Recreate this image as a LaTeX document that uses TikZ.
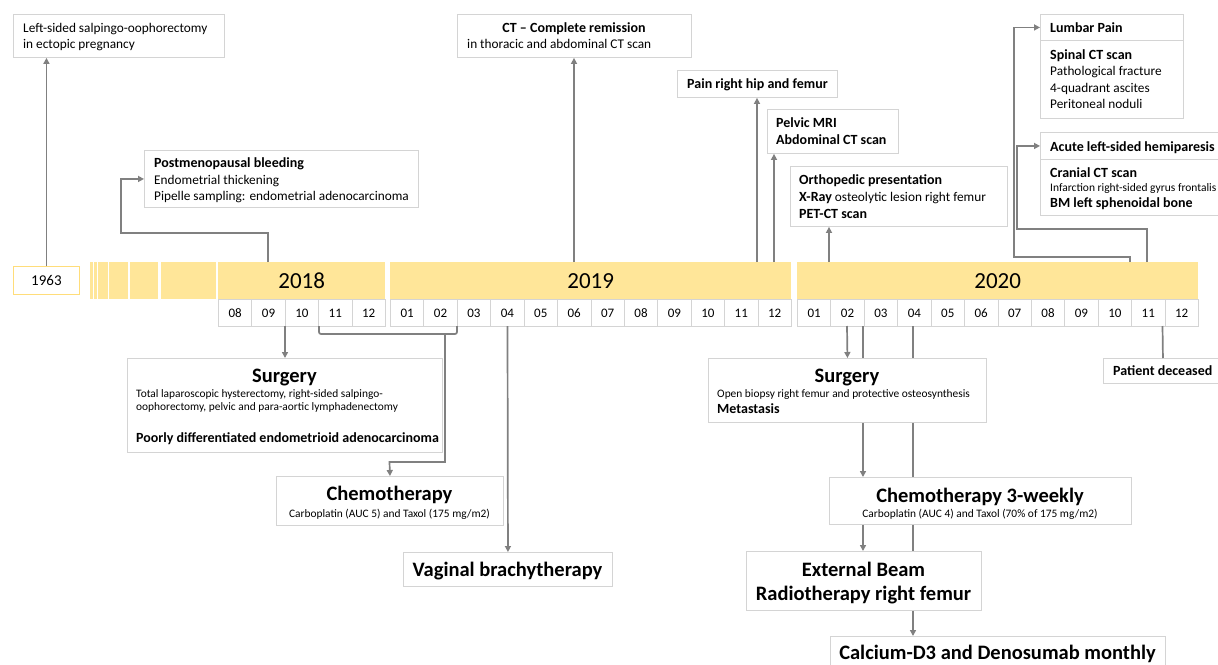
\documentclass[tikz,border=0pt]{standalone}
\usepackage{fontspec}
\setmainfont{Carlito}
\usetikzlibrary{arrows.meta}
\definecolor{conn}{HTML}{808080}
\definecolor{bord}{HTML}{D4D4D4}
\definecolor{gold}{HTML}{FFE699}
\definecolor{goldedge}{HTML}{FFDD7A}
\tikzset{
  box/.style={draw=bord, fill=white, line width=0.9pt, anchor=north west, inner sep=0pt},
  yearbar/.style={fill=gold, anchor=north west, inner sep=0pt, minimum height=37pt, font=\fontsize{23}{26}\selectfont},
  monthcell/.style={draw=bord, fill=white, line width=0.8pt, anchor=north west, inner sep=0pt, minimum width=33.42pt, minimum height=27pt, font=\fontsize{13}{15}\selectfont},
  arr/.style={draw=conn, line width=1.7pt, -{Triangle[length=6pt,width=6pt]}},
  ln/.style={draw=conn, line width=1.7pt},
  txt/.style={anchor=base west, inner sep=0pt, font=\fontsize{13.3}{16}\selectfont},
  btxt/.style={anchor=base west, inner sep=0pt, font=\fontsize{14}{16}\selectfont\bfseries},
  stxt/.style={anchor=base west, inner sep=0pt, font=\fontsize{11.4}{13}\selectfont},
  ctxt/.style={anchor=base, inner sep=0pt, font=\fontsize{11.4}{13}\selectfont},
  ttl/.style={anchor=base, inner sep=0pt, font=\fontsize{20.5}{24}\selectfont\bfseries},
}
\begin{document}
\begin{tikzpicture}[x=1pt,y=-1pt]
\useasboundingbox (0,0) rectangle (1218,664);
\clip (0,0) rectangle (1218,664);
\fill[white] (0,0) rectangle (1218,664);

% ---------- timeline ----------
\node[box, draw=goldedge, minimum width=66pt, minimum height=28pt, font=\fontsize{15}{17}\selectfont] (b1963) at (13,266) {1963};
\foreach \a/\b in {90/93.2,93.6/97,97.7/107.7,109.3/128,130/157.7,161/216}
  \fill[gold] (\a,262) rectangle (\b,299);

\node[yearbar, minimum width=167pt] (y2018) at (218,262) {2018};
\node[yearbar, minimum width=401pt] (y2019) at (390,262) {2019};
\node[yearbar, minimum width=401pt] (y2020) at (797,262) {2020};

\foreach \m [count=\k from 0] in {08,09,10,11,12}
  \node[monthcell, minimum width=33.4pt] (m18-\m) at ({218+\k*33.4},299) {\m};
\foreach \m [count=\k from 0] in {01,02,03,04,05,06,07,08,09,10,11,12}
  \node[monthcell] (m19-\m) at ({390+\k*33.42},299) {\m};
\foreach \m [count=\k from 0] in {01,02,03,04,05,06,07,08,09,10,11,12}
  \node[monthcell] (m20-\m) at ({797+\k*33.42},299) {\m};

% ---------- top boxes ----------
\node[box, minimum width=211pt, minimum height=43pt] (A) at (13,14) {};
\node[txt] (A1) at (23,32) {Left-sided salpingo-oophorectomy};
\node[txt] (A2) at (23,48) {in ectopic pregnancy};

\node[box, minimum width=274pt, minimum height=57pt] (B) at (144,150) {};
\node[btxt] (B1) at (154,167) {Postmenopausal bleeding};
\node[txt] (B2) at (154,184) {Endometrial thickening};
\node[txt] (B3) at (154,200) {Pipelle sampling: endometrial adenocarcinoma};

\node[box, minimum width=234pt, minimum height=43pt] (C) at (457,14) {};
\node[btxt, anchor=base] (C1) at (574,32) {CT – Complete remission};
\node[txt] (C2) at (467,48) {in thoracic and abdominal CT scan};

\node[box, minimum width=160pt, minimum height=27pt] (D) at (677,70) {};
\node[btxt] (D1) at (687,88.5) {Pain right hip and femur};

\node[box, minimum width=131pt, minimum height=44pt] (E) at (767,109) {};
\node[btxt] (E1) at (776,127) {Pelvic MRI};
\node[btxt] (E2) at (776,144) {Abdominal CT scan};

\node[box, minimum width=217pt, minimum height=60pt] (F) at (790,166) {};
\node[btxt] (F1) at (799,184) {Orthopedic presentation};
\node[txt] (F2) at (799,201) {\textbf{\fontsize{14}{16}\selectfont X-Ray} osteolytic lesion right femur};
\node[btxt] (F3) at (799,218) {PET-CT scan};

\node[box, minimum width=143pt, minimum height=26pt] (G1) at (1040,14) {};
\node[btxt] (G1t) at (1050,32) {Lumbar Pain};
\node[box, minimum width=143pt, minimum height=78pt] (G2) at (1040,40) {};
\node[btxt] (G2a) at (1050,59) {Spinal CT scan};
\node[txt] (G2b) at (1050,75.5) {Pathological fracture};
\node[txt] (G2c) at (1050,92) {4-quadrant ascites};
\node[txt] (G2d) at (1050,108) {Peritoneal noduli};

\node[box, minimum width=185pt, minimum height=27pt] (H1) at (1040,132) {};
\node[btxt] (H1t) at (1050,151) {Acute left-sided hemiparesis};
\node[box, minimum width=185pt, minimum height=56pt] (H2) at (1040,159) {};
\node[btxt] (H2a) at (1050,177) {Cranial CT scan};
\node[stxt, font=\fontsize{11.5}{13}\selectfont] (H2b) at (1050,191.5) {Infarction right-sided gyrus frontalis};
\node[btxt] (H2c) at (1050,207) {BM left sphenoidal bone};

% ---------- bottom boxes ----------
\node[box, minimum width=315pt, minimum height=94pt] (S1) at (127,358) {};
\node[ttl] (S1t) at (284.5,382) {Surgery};
\node[stxt] (S1a) at (136,397) {Total laparoscopic hysterectomy, right-sided salpingo-};
\node[stxt] (S1b) at (136,410) {oophorectomy, pelvic and para-aortic lymphadenectomy};
\node[btxt] (S1c) at (136,442) {Poorly differentiated endometrioid adenocarcinoma};

\node[box, minimum width=227pt, minimum height=49pt] (Ch1) at (276,476) {};
\node[ttl] (Ch1t) at (389.5,500) {Chemotherapy};
\node[ctxt] (Ch1a) at (389.5,517) {Carboplatin (AUC 5) and Taxol (175 mg/m2)};

\node[box, minimum width=209pt, minimum height=34pt] (V) at (403,552) {};
\node[ttl] (Vt) at (507.5,576) {Vaginal brachytherapy};

\node[box, minimum width=278pt, minimum height=64pt] (S2) at (708,358) {};
\node[ttl] (S2t) at (847,382) {Surgery};
\node[stxt] (S2a) at (717,397) {Open biopsy right femur and protective osteosynthesis};
\node[btxt] (S2b) at (717,413) {Metastasis};

\node[box, minimum width=119pt, minimum height=25pt] (PD) at (1103,358) {};
\node[btxt] (PDt) at (1113,375) {Patient deceased};

\node[box, minimum width=302pt, minimum height=47pt] (Ch2) at (829,477) {};
\node[ttl] (Ch2t) at (980,502) {Chemotherapy 3-weekly};
\node[ctxt] (Ch2a) at (980,517) {Carboplatin (AUC 4) and Taxol (70\% of 175 mg/m2)};

\node[box, minimum width=235pt, minimum height=59pt] (EB) at (746,551) {};
\node[ttl] (EBa) at (863.5,576) {External Beam};
\node[ttl] (EBb) at (863.5,600) {Radiotherapy right femur};

\node[box, minimum width=335pt, minimum height=40pt] (Cal) at (830,636) {};
\node[ttl] (Calt) at (997.5,659) {Calcium-D3 and Denosumab monthly};

% ---------- connectors above ----------
\draw[arr] (b1963.north) -- (b1963.north |- A.south);
\coordinate (sB) at (268,262);
\draw[arr] (sB) -- (268,233) -- (121,233) |- (B.west);
\coordinate (sC) at (574,262);
\draw[arr] (sC) -- (sC |- C.south);
\coordinate (sD) at (757,262);
\draw[arr] (sD) -- (sD |- D.south);
\coordinate (sE) at (774,262);
\draw[arr] (sE) -- (sE |- E.south);
\coordinate (sF) at (829,262);
\draw[arr] (sF) -- (sF |- F.south);
\coordinate (sG) at (1130,262);
\draw[arr] (sG) -- (1130,257) -- (1014,257) |- (G1.west);
\coordinate (sH) at (1147,262);
\draw[arr] (sH) -- (1147,229) -- (1017,229) |- (H1.west);

% ---------- connectors below ----------
\coordinate (sS1) at (285,326);
\draw[arr] (sS1) -- (sS1 |- S1.north);
\coordinate (bL) at (319,326);
\coordinate (bR) at (457,326);
\draw[ln, rounded corners=2pt] (bL) -- (319,334) -- (457,334) -- (bR);
\coordinate (bM) at (445,334);
\draw[arr] (bM) -- (445,462) -- (389.5,462) -- (Ch1.north);
\coordinate (sV) at (507.5,326);
\draw[arr] (sV) -- (V.north);

\coordinate (sS2) at (847,326);
\draw[arr] (sS2) -- (S2.north);
\coordinate (a863) at (863,326);
\draw[ln] (a863) -- (a863 |- S2.north);
\draw[arr] (a863 |- S2.south) -- (a863 |- Ch2.north);
\draw[arr] (a863 |- Ch2.south) -- (a863 |- EB.north);
\coordinate (a913) at (913,326);
\draw[ln] (a913) -- (a913 |- S2.north);
\draw[ln] (a913 |- S2.south) -- (a913 |- Ch2.north);
\draw[ln] (a913 |- Ch2.south) -- (a913 |- EB.north);
\draw[arr] (a913 |- EB.south) -- (a913 |- Cal.north);
\coordinate (sPD) at (1162.5,326);
\draw[ln] (sPD) -- (PD.north);
\end{tikzpicture}
\end{document}
